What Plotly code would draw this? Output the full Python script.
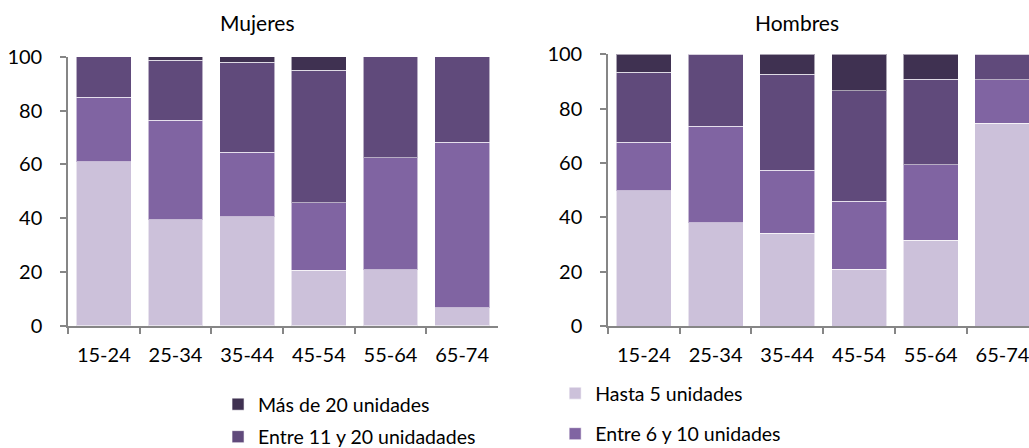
import plotly.graph_objects as go

# Age groups on the x axis
edades = ['15-24', '25-34', '35-44', '45-54', '55-64', '65-74']

# Mujeres (percent of each age group)
muj_hasta5 = [61.0, 39.4, 40.5, 20.7, 20.8, 6.7]
muj_6a10 = [24.0, 37.0, 24.0, 25.1, 41.6, 61.6]
muj_11a20 = [15.0, 22.2, 33.4, 49.2, 37.6, 31.7]
muj_mas20 = [0.0, 1.4, 2.1, 5.0, 0.0, 0.0]

# Hombres
hom_hasta5 = [49.8, 38.0, 34.2, 20.9, 31.5, 74.6]
hom_6a10 = [17.9, 35.6, 23.2, 25.1, 27.8, 16.0]
hom_11a20 = [25.7, 26.4, 35.2, 40.5, 31.6, 9.4]
hom_mas20 = [6.6, 0.0, 7.4, 13.5, 9.1, 0.0]

series = [
    ('Hasta 5 unidades', '#CCC1DA', muj_hasta5, hom_hasta5, 'legend3'),
    ('Entre 6 y 10 unidades', '#8064A2', muj_6a10, hom_6a10, 'legend4'),
    ('Entre 11 y 20 unidadades', '#604A7B', muj_11a20, hom_11a20, 'legend2'),
    ('Más de 20 unidades', '#3F3151', muj_mas20, hom_mas20, 'legend'),
]

FONT = 'Lato'
AXIS_COL = '#868686'

fig = go.Figure()
for name, color, muj, hom, leg in series:
    fig.add_trace(go.Bar(
        x=edades, y=muj, name=name, marker_color=color,
        marker_line=dict(color='rgba(255,255,255,0.55)', width=1),
        xaxis='x', yaxis='y', legend=leg, showlegend=True,
    ))
    fig.add_trace(go.Bar(
        x=edades, y=hom, name=name, marker_color=color,
        marker_line=dict(color='rgba(255,255,255,0.55)', width=1),
        xaxis='x2', yaxis='y2', legend=leg, showlegend=False,
    ))

xcommon = dict(
    type='category', showline=True, linecolor=AXIS_COL, linewidth=1.5,
    ticks='outside', tickson='boundaries', ticklen=6, tickcolor=AXIS_COL,
    tickwidth=1.5, showgrid=False, tickfont=dict(family=FONT, size=20, color='black'),
    ticklabelstandoff=10,
)
ycommon = dict(
    range=[0, 100], tickvals=[0, 20, 40, 60, 80, 100], showline=True,
    linecolor=AXIS_COL, linewidth=1.5, ticks='outside', ticklen=6,
    tickcolor=AXIS_COL, tickwidth=1.5, showgrid=False, zeroline=False,
    tickfont=dict(family=FONT, size=20, color='black'), ticklabelstandoff=14,
)

legend_base = dict(
    orientation='v', xanchor='left', yanchor='middle',
    font=dict(family=FONT, size=19.5, color='black'),
    bgcolor='rgba(0,0,0,0)', borderwidth=0,
)

fig.update_layout(
    width=1029, height=448,
    margin=dict(l=0, r=0, t=0, b=0, autoexpand=False),
    paper_bgcolor='white', plot_bgcolor='white',
    barmode='stack', bargap=0.233,
    xaxis=dict(domain=[0.06608, 0.48397], range=[-0.5, 5.5], anchor='y', **xcommon),
    yaxis=dict(domain=[0.27232, 0.87344], anchor='x', **ycommon),
    xaxis2=dict(domain=[0.59086, 1.0], range=[-0.5, 5.37], anchor='y2', **xcommon),
    yaxis2=dict(domain=[0.27232, 0.87879], anchor='x2', **ycommon),
    legend=dict(x=0.2119, y=0.0971, **legend_base),
    legend2=dict(x=0.2119, y=0.0246, **legend_base),
    legend3=dict(x=0.5395, y=0.1217, **legend_base),
    legend4=dict(x=0.5395, y=0.03125, **legend_base),
    annotations=[
        dict(text='Mujeres', x=0.2507, y=0.9487, xref='paper', yref='paper',
             showarrow=False, xanchor='center', yanchor='middle',
             font=dict(family=FONT, size=21, color='black')),
        dict(text='Hombres', x=0.7745, y=0.9487, xref='paper', yref='paper',
             showarrow=False, xanchor='center', yanchor='middle',
             font=dict(family=FONT, size=21, color='black')),
    ],
)

fig.write_html('out.html', config={'displayModeBar': False},
               post_script="document.body.style.margin='0';")
